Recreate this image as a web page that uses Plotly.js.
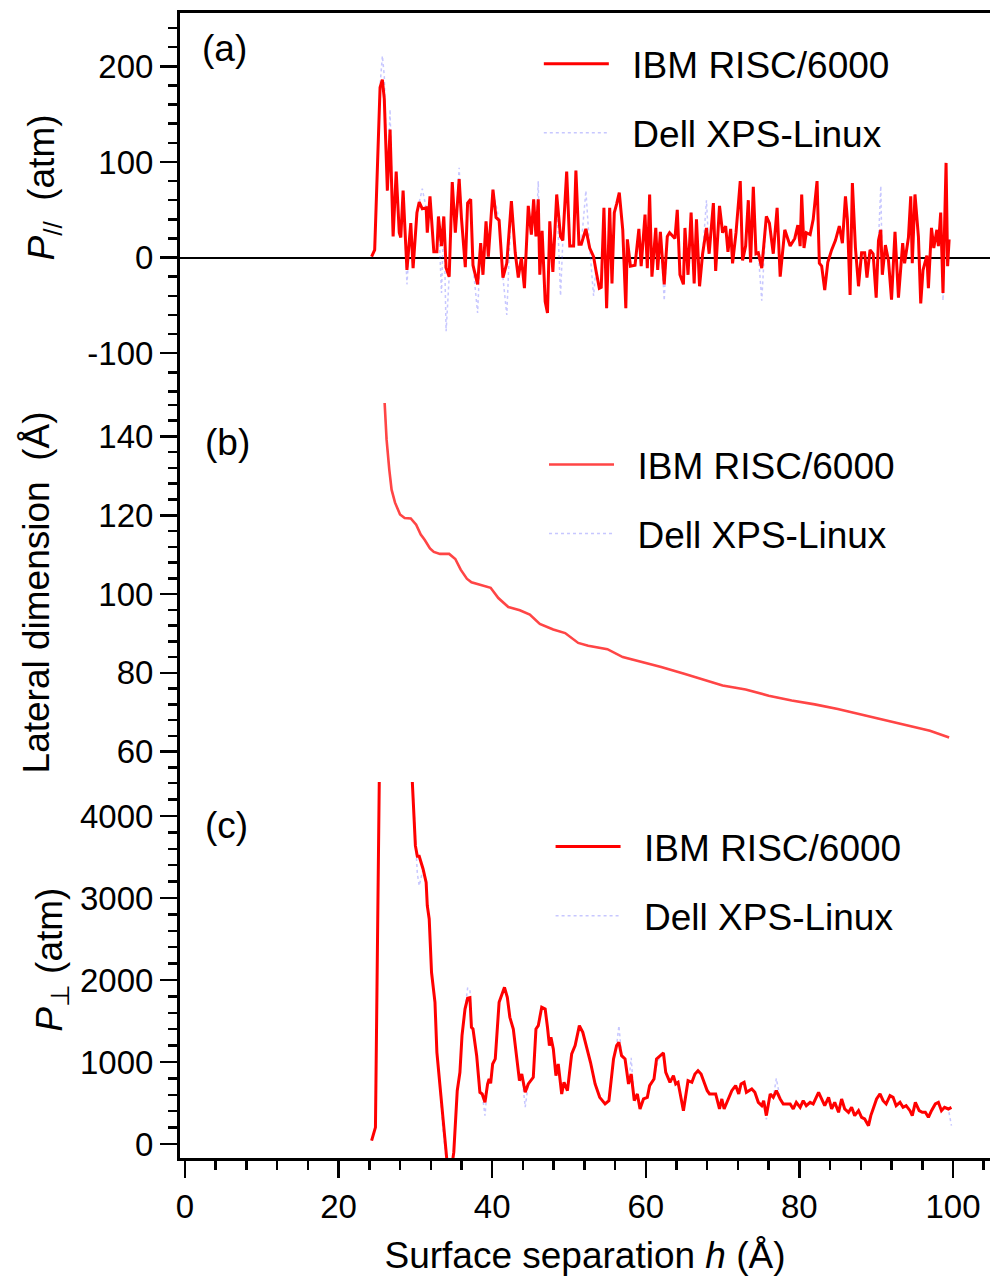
<!DOCTYPE html>
<html><head><meta charset="utf-8">
<script src="https://cdn.plot.ly/plotly-3.0.1.min.js"></script>
<style>body{margin:0;background:#fff}#chart{width:990px;height:1276px}</style>
</head><body><div id="chart"></div>
<script>
// ---------- Panel (a): lateral pressure P_// (atm) ----------
const aH = [
24.3,24.7,25.4,25.7,25.95,26.35,26.7,27.1,27.5,27.9,
28.1,28.4,28.9,29.4,29.7,30.2,30.5,30.9,31.4,31.55,
31.9,32.4,32.8,33.0,33.4,33.7,34.0,34.4,34.8,35.2,
35.7,36.0,36.5,36.8,37.2,37.5,38.1,38.5,38.8,39.2,
39.5,39.8,40.1,40.5,40.9,41.4,41.9,42.5,43.0,43.4,
43.8,44.2,44.7,45.1,45.4,45.7,46.0,46.2,46.5,46.9,
47.2,47.5,47.9,48.4,48.9,49.2,49.7,50.1,50.6,50.9,
51.3,51.6,52.2,52.7,53.2,53.5,53.95,54.2,54.55,54.9,
55.3,55.6,55.9,56.2,56.55,57.0,57.4,57.6,58.0,58.6,
59.1,59.4,59.9,60.2,60.5,60.8,61.3,61.55,61.9,62.4,
62.8,63.1,63.8,64.1,64.45,64.9,65.1,65.5,65.9,66.3,
66.6,67.0,67.4,67.9,68.25,68.8,69.1,69.6,70.0,70.4,
70.7,71.05,71.3,71.75,72.3,72.6,73.0,73.35,73.65,74.0,
74.35,74.65,75.1,75.7,76.1,76.6,77.1,77.5,77.8,78.1,
78.8,79.4,79.8,80.1,80.3,80.6,80.9,81.4,81.8,82.3,
82.6,82.9,83.3,83.7,84.2,84.7,85.2,85.6,86.0,86.25,
86.6,86.9,87.3,87.7,88.1,88.5,88.8,89.2,89.6,90.0,
90.3,90.6,90.8,91.2,91.6,92.0,92.45,92.9,93.45,93.7,
94.2,94.5,94.7,95.05,95.5,95.8,96.1,96.6,96.8,97.2,
97.5,97.9,98.1,98.4,98.7,99.1,99.3,99.5];
const aIBM = [
1,8,178,186,166,70,134,22,90,26,
21,70,-13,36,-11,47,58,51,52,26,
64,6,6,43,12,43,-11,-20,79,26,
82,41,-10,57,61,-8,-28,15,-18,38,
1,38,71,42,39,-21,-6,59,5,-21,
0,-32,54,24,61,22,61,-18,28,-46,
-58,38,-15,66,22,18,90,12,12,91,
14,14,30,10,1,-13,-32,-31,52,-53,
52,-27,47,56,68,29,-53,19,-9,-8,
30,-9,45,-11,66,-20,31,-13,27,-28,
22,26,20,50,-18,-28,31,-18,47,-27,
40,-30,4,31,4,57,-14,54,26,33,
6,30,-6,26,80,-3,12,60,-5,74,
4,5,-11,43,36,4,52,-20,4,29,
12,20,34,12,66,10,26,24,40,80,
-6,-9,-34,-5,8,18,33,15,64,40,
-39,78,10,-30,5,5,-21,8,4,-42,
18,29,-18,13,-3,-44,27,-42,15,-6,
21,64,-6,66,22,-48,-13,2,-32,31,
10,29,12,47,-37,99,-9,19];
const aDell = [
1,8,180,211,190,70,155,22,90,26,
21,70,-28,36,-11,47,58,72,52,26,
64,6,6,43,-37,43,-77,-20,79,26,
94,41,-10,57,61,-8,-58,15,-18,38,
1,38,71,55,39,-21,-60,59,5,-21,
0,-32,54,24,61,22,80,-18,28,-46,
-58,38,-15,66,-40,18,90,12,12,91,
14,14,70,10,-40,-13,-32,-31,52,-53,
52,-27,47,56,68,29,-53,19,-9,-8,
30,-9,45,-11,66,-20,31,-13,27,-45,
22,26,20,50,-18,-28,31,-18,47,-27,
40,-30,4,60,4,57,-14,54,26,33,
6,30,-6,26,80,-3,12,60,-5,74,
4,5,-45,43,36,4,52,-20,4,29,
12,20,34,12,66,10,26,24,40,80,
-6,-9,-34,-5,8,18,33,15,64,40,
-39,78,10,-30,5,5,-21,8,4,-42,
18,75,-18,13,-3,-44,27,-42,15,-6,
21,64,-6,66,22,-48,-13,2,-32,31,
10,29,12,47,-45,99,-9,19];

// ---------- Panel (b): lateral dimension (Å) ----------
const bH = [25.9,26.25,26.6,26.9,27.35,28.0,28.6,29.4,30.1,30.7,
31.2,31.9,32.4,33.2,34.4,35.2,35.9,36.7,37.3,38.6,
39.8,40.8,42.1,43.6,44.9,46.2,47.95,49.5,51.2,52.5,
55,57,59,62,65,68,70,73,76,79,82,85,88,91,94,97,99.5];
const bIBM = [152,139.2,131.6,126.5,123.2,120.2,119.3,119.2,117.6,115.1,
113.8,111.6,110.7,110.2,110.2,108.9,106.2,103.9,103.0,102.2,
101.6,99.0,96.7,95.9,94.8,92.4,91.0,90.1,87.6,86.9,
86.0,84.0,83.0,81.5,79.8,78.0,76.8,75.8,74.2,73.0,72.0,70.8,69.4,68.0,66.6,65.3,63.6];
const bDell = bIBM.slice();

// ---------- Panel (c): normal pressure P_perp (atm) ----------
const cH = [
24.3,24.8,25.4,27.5,29.3,30.0,30.25,30.5,31.0,31.4,
31.55,31.8,32.1,32.55,32.8,33.2,33.55,33.9,34.4,35.0,
35.45,35.8,36.07,36.46,36.8,37.1,37.3,37.5,37.98,38.4,
38.7,39.06,39.4,39.6,39.8,40.06,40.4,40.9,41.45,41.6,
41.97,42.3,42.75,43.2,43.55,43.85,44.3,44.7,45.35,45.7,
46.0,46.45,46.9,47.2,47.45,47.65,47.96,48.3,48.6,49.05,
49.35,49.8,50.35,50.8,51.35,51.8,52.3,52.8,53.4,54.0,
54.7,55.2,55.8,56.2,56.5,56.85,57.3,57.75,58.1,58.5,
58.9,59.25,59.7,60.2,60.5,61.07,61.4,61.85,62.3,62.6,
63.15,63.6,63.9,64.2,64.9,65.5,66.0,66.4,66.8,67.2,
67.7,68.0,68.3,68.8,69.1,69.6,69.9,70.2,70.7,71.2,
71.7,72.1,72.4,72.8,73.1,73.8,74.2,74.65,75.1,75.35,
75.7,76.2,76.6,77.0,77.5,77.9,78.8,79.2,79.6,80.1,
80.5,80.9,81.4,81.8,82.5,82.9,83.3,83.8,84.2,84.6,
85.1,85.5,85.9,86.4,86.8,87.2,87.7,88.1,88.5,89.0,
89.3,89.6,90.05,90.5,90.9,91.3,91.8,92.2,92.6,93.1,
93.5,93.9,94.4,94.7,95.1,95.6,96.0,96.4,96.8,97.2,
97.7,98.1,98.5,98.9,99.4,99.8];
const cIBM = [
40,203,5300,9000,5000,3638,3508,3508,3354,3191,
2906,2744,2094,1728,1118,695,223,-100,-500,-100,
650,874,1321,1646,1777,1785,1423,1402,1077,630,
610,508,732,793,740,976,1037,1728,1890,1911,
1789,1545,1402,1037,772,853,630,732,813,1402,
1443,1667,1646,1423,1199,1300,1159,833,976,610,
752,650,1098,1199,1443,1362,1179,996,732,569,
488,528,1037,1199,1240,1077,1037,732,853,528,
610,427,549,569,712,793,1037,1077,1110,874,
752,833,732,752,406,772,752,853,894,853,
732,650,610,610,610,427,549,427,549,650,
712,610,732,752,630,671,630,508,467,528,
346,610,569,650,549,488,488,427,508,447,
528,467,508,488,630,549,467,569,427,508,
386,549,427,386,447,346,406,325,305,223,
346,427,549,610,528,488,589,569,467,508,
447,467,406,346,508,406,386,386,325,406,
488,508,406,447,427,447];
const cDell = [
40,203,5300,9000,5000,3638,3300,3150,3354,3191,
2906,2744,2094,1728,1118,695,223,-100,-500,-100,
650,874,1321,1646,1900,1890,1423,1402,1077,630,
610,346,732,793,740,976,1037,1728,1890,1911,
1789,1545,1402,1037,772,853,450,732,813,1402,
1443,1667,1646,1423,1199,1300,1159,833,976,610,
752,650,1098,1199,1443,1362,1179,996,732,569,
488,528,1037,1199,1443,1077,1037,732,1050,528,
610,427,549,569,712,793,950,1077,1110,874,
752,833,732,752,406,772,752,853,894,853,
732,650,610,610,610,427,549,427,549,650,
712,610,732,752,630,671,630,508,467,528,
300,610,569,800,549,488,488,427,508,447,
528,467,508,488,630,549,467,569,427,508,
386,549,427,386,447,346,406,325,305,250,
346,427,549,610,528,488,589,569,467,508,
447,467,406,346,508,406,386,386,325,406,
488,508,406,447,427,223];

// tick labels
const xTickVals = [0,20,40,60,80,100];
const aTickVals = [-100,0,100,200];
const aTickText = ['-100','0','100','200'];
const bTickVals = [60,80,100,120,140];
const cTickVals = [0,1000,2000,3000,4000];
const seriesNames = ['IBM RISC/6000','Dell XPS-Linux'];

const FONT = '"Liberation Sans", Arial, Helvetica, sans-serif';
const RED = '#ff0000';
const BLUE = 'rgba(80,80,255,0.32)';
const XR = [-0.65, 104.82];
const GAP = '\u2002';

function ibm(x, y, xa, ya, leg, color, w) {
  return {x, y, xaxis: xa, yaxis: ya, type: 'scatter', mode: 'lines', name: GAP + seriesNames[0],
    legend: leg, legendrank: 1, legendgroup: leg + 'i',
    line: {color: color, width: w}};
}
function dell(x, y, xa, ya, leg) {
  return {x, y, xaxis: xa, yaxis: ya, type: 'scatter', mode: 'lines', name: GAP + seriesNames[1],
    legend: leg, legendrank: 2, legendgroup: leg + 'd',
    line: {color: BLUE, width: 1.5, dash: 'dot'}};
}
const data = [
  dell(aH, aDell, 'x', 'y', 'legend'),
  ibm(aH, aIBM, 'x', 'y', 'legend', RED, 3),
  dell(bH, bDell, 'x2', 'y2', 'legend2'),
  ibm(bH, bIBM, 'x2', 'y2', 'legend2', '#ff4545', 2.6),
  dell(cH, cDell, 'x3', 'y3', 'legend3'),
  ibm(cH, cIBM, 'x3', 'y3', 'legend3', RED, 3)
];

const minorX = (t) => ({dtick: 4, tick0: 0, ticks: t, ticklen: 9, tickwidth: 2.5, tickcolor: 'black', showgrid: false});
const baseX = {range: XR, showgrid: false, zeroline: false, showline: true, linecolor: 'black', linewidth: 3, fixedrange: true};
const yBase = {showgrid: false, showline: true, linecolor: 'black', linewidth: 3, mirror: false,
  ticks: 'outside', ticklen: 17, tickwidth: 2.5, tickcolor: 'black', fixedrange: true,
  tickfont: {size: 33}};
const legBase = {font: {size: 37, family: FONT, color: 'black'}, bgcolor: 'rgba(0,0,0,0)',
  traceorder: 'grouped', tracegroupgap: 18, itemwidth: 65, xanchor: 'left', yanchor: 'top'};
const NB = '\u00a0';
const pad = (n) => '<span>' + NB.repeat(n) + '</span>';

const layout = {
  width: 990, height: 1276,
  margin: {l: 180, r: 0, t: 13, b: 118, pad: 0},
  paper_bgcolor: 'white', plot_bgcolor: 'white',
  font: {family: FONT, size: 33, color: 'black'},
  showlegend: true,
  xaxis: Object.assign({}, baseX, {anchor: 'y', side: 'top', ticks: '', showticklabels: false}),
  xaxis2: Object.assign({}, baseX, {anchor: 'y2', showline: false, ticks: '', showticklabels: false}),
  xaxis3: Object.assign({}, baseX, {anchor: 'y3', ticks: 'outside', ticklen: 17, tickwidth: 2.5, tickcolor: 'black',
    tickmode: 'array', tickvals: xTickVals, tickfont: {size: 33}, minor: minorX('outside'),
    title: {text: 'Surface separation <i>h</i> (Å)', font: {size: 37}, standoff: 20}}),
  xaxis4: Object.assign({}, baseX, {anchor: 'y2', overlaying: 'x2', side: 'top', ticks: 'inside', ticklen: 17,
    tickwidth: 2.5, tickcolor: 'black', tickmode: 'array', tickvals: xTickVals, showticklabels: false, minor: minorX('inside')}),
  xaxis5: Object.assign({}, baseX, {anchor: 'y3', overlaying: 'x3', side: 'top', ticks: 'inside', ticklen: 17,
    tickwidth: 2.5, tickcolor: 'black', tickmode: 'array', tickvals: xTickVals, showticklabels: false, minor: minorX('inside')}),
  yaxis: Object.assign({}, yBase, {domain: [0.6594, 1], anchor: 'x', range: [-152.1, 255.8],
    tickmode: 'array', tickvals: aTickVals, ticktext: aTickText,
    minor: {dtick: 20, tick0: 0, ticks: 'outside', ticklen: 9, tickwidth: 2.5, tickcolor: 'black', showgrid: false},
    zeroline: true, zerolinecolor: 'black', zerolinewidth: 2,
    title: {text: pad(4) + '<i>P</i><sub>//</sub>' + NB + ' (atm)', font: {size: 37}, standoff: 22}}),
  yaxis2: Object.assign({}, yBase, {domain: [0.3284, 0.6594], anchor: 'x2', range: [52.3, 148.5],
    tickmode: 'array', tickvals: bTickVals, zeroline: false,
    minor: {dtick: 4, tick0: 0, ticks: 'outside', ticklen: 9, tickwidth: 2.5, tickcolor: 'black', showgrid: false},
    title: {text: 'Lateral dimension' + NB + ' (Å)', font: {size: 37}, standoff: 38}}),
  yaxis3: Object.assign({}, yBase, {domain: [0, 0.3284], anchor: 'x3', range: [-171, 4415],
    tickmode: 'array', tickvals: cTickVals, zeroline: false,
    minor: {dtick: 200, tick0: 0, ticks: 'outside', ticklen: 9, tickwidth: 2.5, tickcolor: 'black', showgrid: false},
    title: {text: pad(2) + '<i>P</i><sub>⊥</sub> (atm)', font: {size: 37}, standoff: 7}}),
  legend: Object.assign({}, legBase, {x: 0.443, y: 0.9824}),
  legend2: Object.assign({}, legBase, {x: 0.4494, y: 0.6324}),
  legend3: Object.assign({}, legBase, {x: 0.4575, y: 0.2987}),
  annotations: [
    {text: '(a)', xref: 'paper', yref: 'paper', x: 0.0247, y: 0.9694, xanchor: 'left', yanchor: 'middle', showarrow: false, font: {size: 37}},
    {text: '(b)', xref: 'paper', yref: 'paper', x: 0.0284, y: 0.6253, xanchor: 'left', yanchor: 'middle', showarrow: false, font: {size: 37}},
    {text: '(c)', xref: 'paper', yref: 'paper', x: 0.0284, y: 0.2908, xanchor: 'left', yanchor: 'middle', showarrow: false, font: {size: 37}}
  ]
};

Plotly.newPlot('chart', data, layout, {displayModeBar: false, staticPlot: true});
</script></body></html>
